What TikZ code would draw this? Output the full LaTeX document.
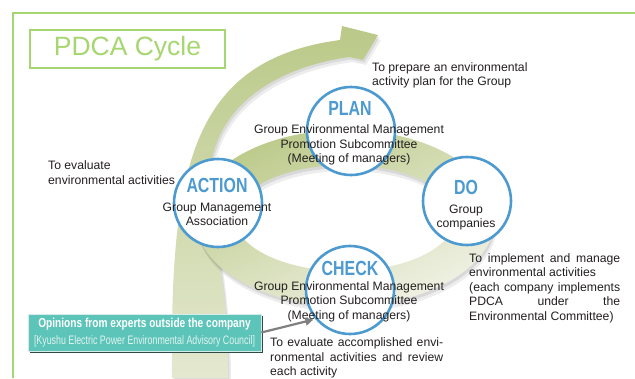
\documentclass[tikz,border=0pt]{standalone}
\usepackage{fontspec}
\setmainfont{Liberation Sans}
\newfontfamily\condfont[FakeStretch=0.78]{Liberation Sans}
\newfontfamily\narrowfont[FakeStretch=0.72]{Liberation Sans}
\usetikzlibrary{arrows.meta}

\definecolor{framegreen}{RGB}{166,214,112}
\definecolor{arrowgreen}{RGB}{186,201,136}
\definecolor{arrowpale}{RGB}{228,232,208}
\definecolor{ringdark}{RGB}{188,202,138}
\definecolor{ringpale}{RGB}{240,241,228}
\definecolor{cycleblue}{RGB}{76,154,207}
\definecolor{textgrey}{RGB}{35,31,32}
\definecolor{tealfill}{RGB}{92,196,184}
\definecolor{tealdark}{RGB}{45,75,70}
\definecolor{teallight}{RGB}{214,236,233}
\definecolor{tealtext}{RGB}{226,244,241}
\definecolor{pointergrey}{RGB}{128,128,128}

% big swoosh arrow and the cycle ring, in pixel units
\newcommand{\swooshpath}{(172,378) .. controls (170,170) and (190,60) .. (340,40) -- (342,26) -- (378,35) -- (363,60) -- (349,57) .. controls (260,70) and (205,120) .. (210,190) .. controls (213,240) and (228,280) .. (228,378) -- cycle}
\newcommand{\ringpath}{(345,218) ellipse [x radius=150, y radius=88] (345,218) ellipse [x radius=110, y radius=53]}

\begin{document}
\begin{tikzpicture}[x=1pt,y=-1pt,
  stage/.style={circle,draw=cycleblue,line width=2.6pt,fill=white,minimum size=88pt,inner sep=0pt},
  stagetitle/.style={text=cycleblue,font=\condfont\bfseries\fontsize{20.4}{22}\selectfont,inner sep=0pt},
  stagetext/.style={text=textgrey,font=\fontsize{12.2}{14.5}\selectfont,align=center,inner sep=0pt},
  note/.style={text=textgrey,font=\fontsize{12.2}{14.5}\selectfont,align=left,inner sep=0pt,anchor=base west}]
\useasboundingbox (0,0) rectangle (635,378);
\draw[framegreen,line width=2.4pt] (13,378) -- (13,13) -- (635,13);
\node[draw=framegreen,line width=2pt,minimum width=195pt,minimum height=38pt,inner sep=0pt,text=framegreen,font=\fontsize{26.5}{30}\selectfont] (title) at (127.5,49) {PDCA Cycle};

% swoosh
\fill[black,opacity=.07,shift={(3,5)}] \swooshpath;
\fill[black,opacity=.08,shift={(1.5,2.5)}] \swooshpath;
\shade[top color=arrowgreen,bottom color=arrowpale] \swooshpath;

% ring
\fill[black,opacity=.07,even odd rule,shift={(2,6)}] \ringpath;
\fill[black,opacity=.09,even odd rule,shift={(1,3)}] \ringpath;
\shade[even odd rule,top color=ringdark,bottom color=ringpale,shading angle=25] \ringpath;

\node[stage] (plan) at (351,131) {};
\node[stage] (do) at (467,201) {};
\node[stage] (check) at (350,290) {};
\node[stage] (action) at (218,203) {};

\node[stagetitle] (plantitle) at (350,108) {PLAN};
\node[stagetext] (plantext) at (349,145) {Group Environmental Management\\Promotion Subcommittee\\(Meeting of managers)};
\node[stagetitle] (dotitle) at (466,187) {DO};
\node[stagetext] (dotext) at (466,217.5) {Group\\companies};
\node[stagetitle] (checktitle) at (350,268) {CHECK};
\node[stagetext] (checktext) at (349,301.5) {Group Environmental Management\\Promotion Subcommittee\\(Meeting of managers)};
\node[stagetitle] (actiontitle) at (217,185) {ACTION};
\node[stagetext] (actiontext) at (217,214.5) {Group Management\\Association};

% notes, placed at the baseline of their last line
\node[note] (plannote) at (372,85.5) {To prepare an environmental\\activity plan for the Group};
\node[note] (actionnote) at (48,184) {To evaluate\\environmental activities};
\node[note] (donote) at (469,320) {\makebox[151pt][s]{To implement and manage}\\environmental activities\\\makebox[151pt][s]{(each company implements}\\\makebox[151pt][s]{PDCA under the}\\Environmental Committee)};
\node[note] (checknote) at (270,375.5) {\makebox[173pt][s]{To evaluate accomplished envi-}\\\makebox[173pt][s]{ronmental activities and review}\\each activity};

% outside opinions
\fill[tealdark] (30,316) rectangle (263,353);
\node[fill=tealfill,draw=teallight,line width=.8pt,minimum width=233pt,minimum height=37pt,inner sep=0pt,align=center,font=\fontsize{13}{17}\selectfont] (opinions) at (144.5,332.5) {{\condfont\bfseries\color{white}Opinions from experts outside the company}\\{\narrowfont\fontsize{12.3}{17}\selectfont\color{tealtext}[Kyushu Electric Power Environmental Advisory Council]}};
\draw[pointergrey,line width=2.2pt,-{Triangle[length=8pt,width=8pt]},shorten >=2pt] (opinions.east) -- (check.220);
\end{tikzpicture}
\end{document}
